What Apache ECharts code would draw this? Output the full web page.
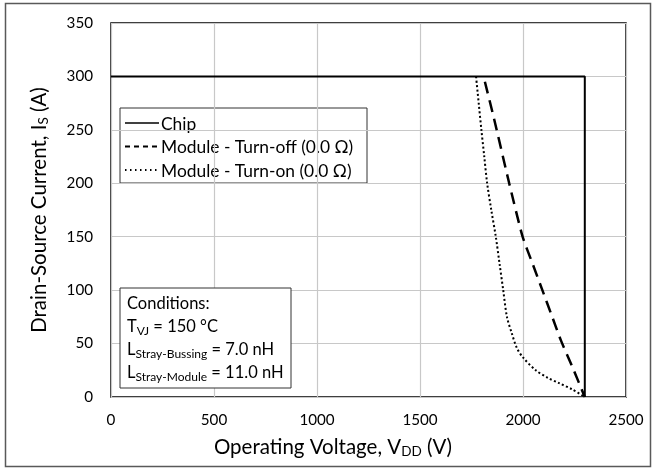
<!DOCTYPE html>
<html>
<head>
<meta charset="utf-8">
<script src="https://cdn.jsdelivr.net/npm/echarts@6/dist/echarts.min.js"></script>
<style>
html,body{margin:0;padding:0;background:#fff;}
#c{width:656px;height:474px;}
</style>
</head>
<body>
<div id="c"></div>
<script>
// ---- data ----
const xTicks = [0, 500, 1000, 1500, 2000, 2500];
const yTicks = [0, 50, 100, 150, 200, 250, 300, 350];

const chipV = [0, 2300, 2300];
const chipI = [300, 300, 0];

const offV = [1815, 1860, 1933, 1998, 2046, 2094, 2140, 2184, 2240, 2300];
const offI = [295, 260, 200, 150, 125, 100, 76, 53, 28, 0];

const onV = [1772, 1785, 1798, 1812, 1826, 1846, 1868, 1886, 1904, 1922, 1945, 1970, 2000, 2062, 2120, 2175, 2240, 2300];
const onI = [300, 275, 250, 225, 200, 175, 150, 125, 100, 75, 60, 46, 37, 25, 18, 13, 7, 0];

const seriesNames = ['Chip', 'Module - Turn-off (0.0 Ω)', 'Module - Turn-on (0.0 Ω)'];

function pairs(xs, ys) { return xs.map((x, i) => [x, ys[i]]); }

const FONT = 'Lato, "Open Sans", sans-serif';
const chart = echarts.init(document.getElementById('c'), null, {renderer: 'canvas'});

const legendX = 120, legendY = 108, legendW = 247, legendH = 75;
const rowY = [123, 146.5, 170];
const dashes = [null, [5, 4], [1.5, 3.5]];

const legendChildren = [
  {type: 'rect', shape: {x: legendX, y: legendY, width: legendW, height: legendH},
   style: {fill: '#fff', stroke: '#333', lineWidth: 1}}
];
seriesNames.forEach((n, i) => {
  legendChildren.push({type: 'line', shape: {x1: 125, y1: rowY[i], x2: 159, y2: rowY[i]},
    style: {stroke: '#000', lineWidth: i === 0 ? 1.6 : 2, lineDash: dashes[i]}});
  legendChildren.push({type: 'text', x: 161, y: rowY[i] + 1,
    style: {text: n, fill: '#000', font: '17.4px ' + FONT, textVerticalAlign: 'middle', verticalAlign: 'middle'}});
});

const condRich = {
  n: {fontSize: 16.5, fontFamily: FONT, color: '#000', lineHeight: 23},
  s: {fontSize: 12, fontFamily: FONT, color: '#000', padding: [9, 0, 0, 0], lineHeight: 23}
};

chart.setOption({
  backgroundColor: '#fff',
  animation: false,
  grid: {left: 111, right: 30, top: 23, bottom: 77, show: true, borderColor: '#000', borderWidth: 1.5},
  xAxis: {
    type: 'value', min: 0, max: 2500, interval: 500,
    axisLine: {show: false}, axisTick: {show: false},
    splitLine: {show: true, lineStyle: {color: '#c8c8c8', width: 1.2}},
    axisLabel: {color: '#000', fontSize: 15.2, fontFamily: FONT, margin: 16,
      formatter: v => xTicks.includes(v) ? String(v) : ''},
    name: 'Operating Voltage, V{s|DD} (V)', nameLocation: 'middle', nameGap: 38,
    nameTextStyle: {color: '#000', fontSize: 20.5, fontFamily: FONT, padding: [0, 71, 0, 0],
      rich: {s: {fontSize: 13.5, fontFamily: FONT, color: '#000', padding: [10, 0, 0, 0]}}}
  },
  yAxis: {
    type: 'value', min: 0, max: 350, interval: 50,
    axisLine: {show: false}, axisTick: {show: false},
    splitLine: {show: true, lineStyle: {color: '#c8c8c8', width: 1.2}},
    axisLabel: {color: '#000', fontSize: 15.2, fontFamily: FONT, margin: 18,
      formatter: v => yTicks.includes(v) ? String(v) : ''},
    name: 'Drain-Source Current, I{s|S} (A)', nameLocation: 'middle', nameGap: 60, nameRotate: 90,
    nameTextStyle: {color: '#000', fontSize: 20.5, fontFamily: FONT,
      rich: {s: {fontSize: 13.5, fontFamily: FONT, color: '#000', padding: [10, 0, 0, 0]}}}
  },
  series: [
    {name: seriesNames[0], type: 'line', data: pairs(chipV, chipI), showSymbol: false,
     lineStyle: {color: '#000', width: 2}, z: 3},
    {name: seriesNames[1], type: 'line', data: pairs(offV, offI), showSymbol: false, smooth: 0.2,
     lineStyle: {color: '#000', width: 2.5, type: [12, 7]}, z: 3},
    {name: seriesNames[2], type: 'line', data: pairs(onV, onI), showSymbol: false, smooth: 0.3,
     lineStyle: {color: '#000', width: 2, type: [2, 2.4]}, z: 3}
  ],
  graphic: [
    {type: 'rect', shape: {x: 5.5, y: 3.5, width: 645, height: 463},
     style: {fill: 'none', stroke: '#595959', lineWidth: 1.5}, z: 0, silent: true},
    {type: 'group', children: legendChildren, z: 10},
    {type: 'rect', shape: {x: 120, y: 288, width: 171, height: 100},
     style: {fill: '#fff', stroke: '#333', lineWidth: 1}, z: 10},
    {type: 'text', x: 127, y: 292, z: 11,
     style: {
       text: '{n|Conditions:}\n{n|T}{s|VJ}{n| = 150 °C}\n{n|L}{s|Stray-Bussing}{n| = 7.0 nH}\n{n|L}{s|Stray-Module}{n| = 11.0 nH}',
       rich: condRich, fill: '#000'
     }}
  ]
});
</script>
</body>
</html>
